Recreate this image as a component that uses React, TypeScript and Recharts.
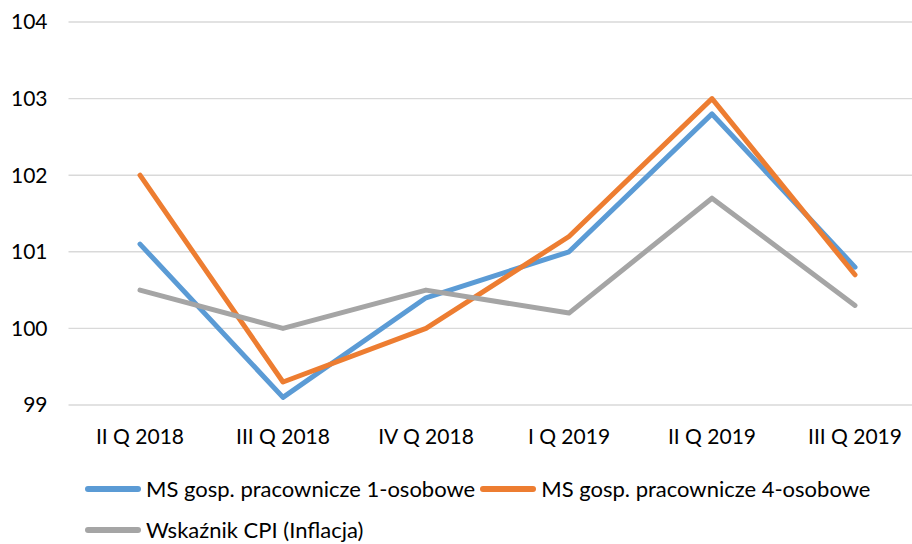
import { LineChart, Line, XAxis, YAxis, CartesianGrid, Legend } from "recharts";

const quarters = ["II Q 2018", "III Q 2018", "IV Q 2018", "I Q 2019", "II Q 2019", "III Q 2019"];
const oneperson = [101.1, 99.1, 100.4, 101.0, 102.8, 100.8];
const fourperson = [102.0, 99.3, 100.0, 101.2, 103.0, 100.7];
const cpi = [100.5, 100.0, 100.5, 100.2, 101.7, 100.3];
const yTicks = [99, 100, 101, 102, 103, 104];

const data = quarters.map((q, i) => ({ q, one: oneperson[i], four: fourperson[i], cpi: cpi[i] }));

const font = "Lato, 'Open Sans', sans-serif";

function LegendBox({ payload }: { payload?: Array<{ value: string; color: string }> }) {
  return (
    <div style={{ display: "flex", flexWrap: "wrap", paddingLeft: 85, paddingTop: 4, fontFamily: font, fontSize: 22, color: "#000", lineHeight: "26px" }}>
      {(payload || []).map((p) => (
        <div key={p.value} style={{ display: "flex", alignItems: "center", height: 41, marginRight: 5 }}>
          <span style={{ display: "inline-block", width: 56, height: 6, borderRadius: 3, background: p.color, marginRight: 5 }} />
          <span>{p.value}</span>
        </div>
      ))}
    </div>
  );
}

export default function App() {
  return (
    <div style={{ position: "fixed", left: 0, top: 0, width: 912, height: 544, overflow: "hidden", background: "#fff" }}>
      <LineChart width={930} height={544} data={data} margin={{ top: 22, right: 3.5, left: 0, bottom: 0 }}>
        <CartesianGrid vertical={false} stroke="#D9D9D9" strokeWidth={1.4} />
        <XAxis
          dataKey="q"
          axisLine={false}
          tickLine={false}
          tickSize={0}
          tickMargin={24}
          height={59}
          interval={0}
          padding={{ left: 71.5, right: 71.5 }}
          tick={{ fontSize: 21, fontFamily: font, fill: "#000" }}
        />
        <YAxis
          domain={[99, 104]}
          ticks={yTicks}
          width={68.5}
          axisLine={false}
          tickLine={false}
          tickSize={0}
          tickMargin={21}
          tick={{ fontSize: 21, fontFamily: font, fill: "#000" }}
        />
        <Legend
          verticalAlign="bottom"
          height={80}
          wrapperStyle={{ left: 0, width: 912 }}
          content={(props: any) => <LegendBox payload={props.payload} />}
        />
        <Line dataKey="one" name="MS gosp. pracownicze 1-osobowe" stroke="#5B9BD5" strokeWidth={5} dot={false} strokeLinecap="round" strokeLinejoin="round" isAnimationActive={false} />
        <Line dataKey="four" name="MS gosp. pracownicze 4-osobowe" stroke="#ED7D31" strokeWidth={5} dot={false} strokeLinecap="round" strokeLinejoin="round" isAnimationActive={false} />
        <Line dataKey="cpi" name="Wskaźnik CPI (Inflacja)" stroke="#A5A5A5" strokeWidth={5} dot={false} strokeLinecap="round" strokeLinejoin="round" isAnimationActive={false} />
      </LineChart>
    </div>
  );
}
